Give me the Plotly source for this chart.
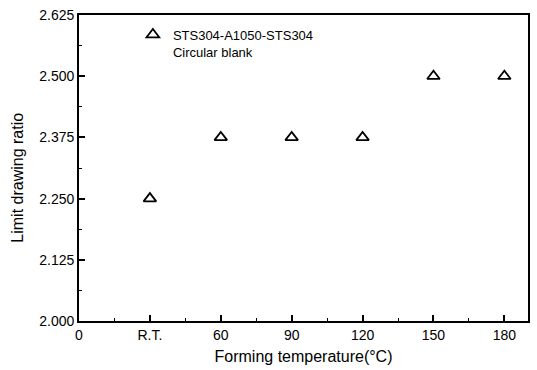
import plotly.graph_objects as go

# Forming temperatures (R.T. plotted at 30) and limit drawing ratios
temp_positions = [30, 60, 90, 120, 150, 180]
ldr_values = [2.250, 2.375, 2.375, 2.375, 2.500, 2.500]

x_tick_vals = [0, 30, 60, 90, 120, 150, 180]
x_tick_text = ["0", "R.T.", "60", "90", "120", "150", "180"]
y_tick_vals = [2.000, 2.125, 2.250, 2.375, 2.500, 2.625]
y_tick_text = ["2.000", "2.125", "2.250", "2.375", "2.500", "2.625"]

series_name = "STS304-A1050-STS304<br>Circular blank"

FONT = "Arial, Liberation Sans, sans-serif"

fig = go.Figure()
fig.add_trace(go.Scatter(
    x=temp_positions,
    y=ldr_values,
    mode="markers",
    name=series_name,
    marker=dict(symbol="triangle-up-open", size=11, color="black",
                line=dict(width=1.8, color="black")),
))

axis_common = dict(
    showline=True, linecolor="black", linewidth=1.8, mirror=True,
    ticks="inside", ticklen=6, tickwidth=1.5, tickcolor="black",
    showgrid=False, zeroline=False,
    tickfont=dict(family=FONT, size=14, color="black"),
)

fig.update_xaxes(
    range=[0, 190],
    tickmode="array", tickvals=x_tick_vals, ticktext=x_tick_text,
    minor=dict(ticks="inside", ticklen=3, tickwidth=1.2, tickcolor="black",
               dtick=15, tick0=0, showgrid=False),
    title=dict(text="Forming temperature(°C)",
               font=dict(family=FONT, size=16, color="black"), standoff=9),
    **axis_common,
)
fig.update_yaxes(
    range=[2.0, 2.625],
    tickmode="array", tickvals=y_tick_vals, ticktext=y_tick_text,
    minor=dict(ticks="inside", ticklen=3, tickwidth=1.2, tickcolor="black",
               dtick=0.0625, tick0=2.0, showgrid=False),
    **axis_common,
)

# Vertical axis title, placed a little below the plot's centre line
fig.add_annotation(
    text="Limit drawing ratio", textangle=-90,
    xref="paper", yref="paper", x=-0.137, y=0.47,
    xanchor="center", yanchor="middle", showarrow=False,
    font=dict(family=FONT, size=16, color="black"),
)

fig.update_layout(
    width=537, height=370,
    margin=dict(l=79, r=7, t=14, b=48),
    paper_bgcolor="white", plot_bgcolor="white",
    showlegend=True,
    legend=dict(
        x=0.12, y=0.985, xanchor="left", yanchor="top",
        bgcolor="rgba(0,0,0,0)", borderwidth=0,
        font=dict(family=FONT, size=13, color="black"),
        valign="top",
    ),
)

fig.write_html("out.html")
